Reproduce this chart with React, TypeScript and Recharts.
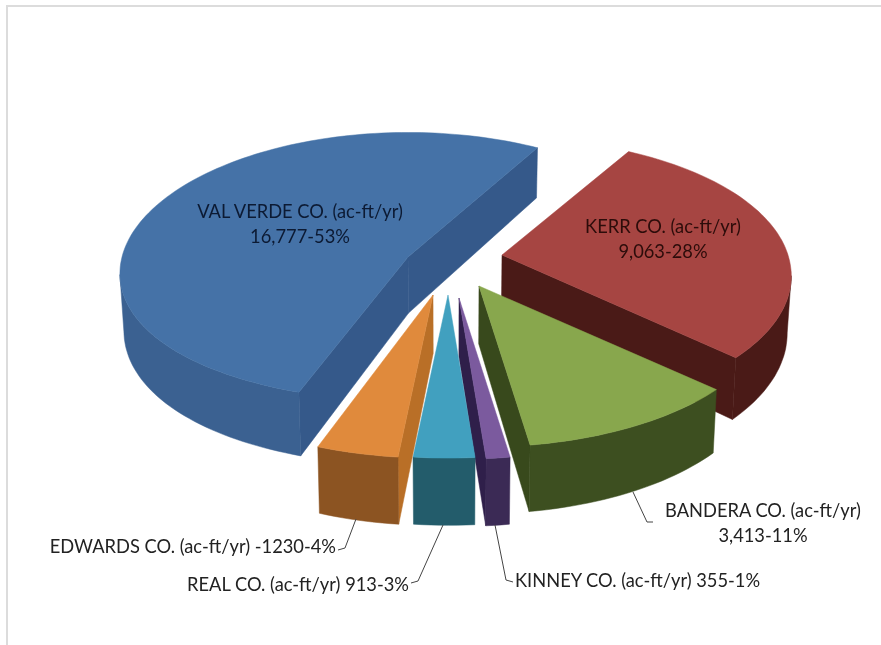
import React from "react";
import { PieChart, Pie } from "recharts";

const names = ["KERR CO.", "BANDERA CO.", "KINNEY CO.", "REAL CO.", "EDWARDS CO.", "VAL VERDE CO."];
const values = [9063, 3413, 355, 913, 1230, 16777];
const labelLines = [
  ["KERR CO. (ac-ft/yr)", "9,063-28%"],
  ["BANDERA CO. (ac-ft/yr)", "3,413-11%"],
  ["KINNEY CO. (ac-ft/yr) 355-1%"],
  ["REAL CO. (ac-ft/yr) 913-3%"],
  ["EDWARDS CO. (ac-ft/yr) -1230-4%"],
  ["VAL VERDE CO. (ac-ft/yr)", "16,777-53%"],
];
const topColors = ["#a64542", "#88a74d", "#7b5a9e", "#41a0bf", "#e08a3c", "#4572a7"];
const outerWallColors = ["#4a1a17", "#3d4f20", "#3b2a55", "#235c6b", "#8c5422", "#3b6191"];
const sideWallColors = ["#4a1a17", "#38491c", "#2f1f4a", "#235c6b", "#b96f27", "#35598a"];
const explodeVectors = [[51, -11], [28, 20], [8, 32], [-3, 29], [-18, 29], [-43, -9]];
const perspectiveX = [0.15, 0.17, 0.17, 0.17, 0.17, 0.12];
const perspectiveBack = [0.17, 0.17, 0.17, 0.17, 0.17, 0.1];
const perspectiveFront = [0.14, 0.15, 0.15, 0.16, 0.16, 0.05];
const labelLayout = [
  { x: 663, y: 233, anchor: "middle", color: "#2c0c0a" },
  { x: 763, y: 517, anchor: "middle", color: "#222" },
  { x: 515, y: 587, anchor: "start", color: "#222" },
  { x: 409, y: 591, anchor: "end", color: "#222" },
  { x: 336, y: 553, anchor: "end", color: "#222" },
  { x: 300, y: 218, anchor: "middle", color: "#0c1a33" },
];
const leaders = [
  null,
  [[633, 492], [647, 522], [653, 522]],
  [[495, 525], [506, 580], [513, 582]],
  [[443, 525], [418, 581], [411, 583]],
  [[356, 519], [345, 548], [338, 550]],
  null,
];

const CX = 451;
const CY = 266;
const RX = 286;
const RY_RATIO = 137 / 286;

const data = names.map((name, i) => ({ name, value: values[i] }));

type P = [number, number];
const pathOf = (pts: P[]) =>
  "M" + pts.map((p) => `${p[0].toFixed(1)},${p[1].toFixed(1)}`).join("L") + "Z";
const drop = (p: P): P => [p[0] + (CX - p[0]) * 0.012, p[1] + 42 + 0.055 * p[1]];

function Slice3D(props: any) {
  const { cx, cy, outerRadius, startAngle, endAngle, index } = props;
  const i = index ?? names.indexOf(props.name);
  const [ex, ey] = explodeVectors[i];
  const ax = cx + ex;
  const ay = cy + ey;
  const ry = outerRadius * RY_RATIO;
  const at = (deg: number): P => {
    const a = (deg * Math.PI) / 180;
    const X = Math.cos(a);
    const Y = -Math.sin(a);
    const sx = 1 / (1 - perspectiveX[i] * Y);
    const sy = 1 / (1 - (Y < 0 ? perspectiveBack[i] : perspectiveFront[i]) * Y);
    return [ax + outerRadius * X * sx, ay + ry * Y * sy];
  };
  const apex: P = [ax, ay];
  const n = Math.max(2, Math.ceil(Math.abs(endAngle - startAngle) / 1.5));
  const arc: P[] = [];
  for (let k = 0; k <= n; k++) arc.push(at(startAngle + ((endAngle - startAngle) * k) / n));
  const ring: P[] = [apex, ...arc];
  const walls: React.ReactNode[] = [];
  // a wall is visible when its edge runs leftwards on the clockwise outline
  const quad = (a: P, b: P, key: string) => (
    <path key={key} d={pathOf([a, b, drop(b), drop(a)])} fill={sideWallColors[i]} stroke={sideWallColors[i]} strokeWidth={0.5} />
  );
  if (arc[0][0] < apex[0]) walls.push(quad(apex, arc[0], "s"));
  if (apex[0] < arc[n][0]) walls.push(quad(arc[n], apex, "e"));
  let run: P[] = [];
  const flush = (key: string) => {
    if (run.length > 1) {
      const bottom = run.map(drop).reverse();
      walls.push(<path key={key} d={pathOf([...run, ...bottom])} fill={outerWallColors[i]} stroke={outerWallColors[i]} strokeWidth={0.5} />);
    }
    run = [];
  };
  for (let k = 0; k < n; k++) {
    if (arc[k + 1][0] < arc[k][0]) {
      if (run.length === 0) run.push(arc[k]);
      run.push(arc[k + 1]);
    } else flush("r" + k);
  }
  flush("rEnd");
  return (
    <g>
      {walls}
      <path d={pathOf(ring)} fill={topColors[i]} stroke={topColors[i]} strokeWidth={0.5} />
    </g>
  );
}

function SliceLabel(props: any) {
  const { index } = props;
  const l = labelLayout[index];
  const lead = leaders[index];
  return (
    <g>
      {lead && <polyline points={lead.map((p) => p.join(",")).join(" ")} fill="none" stroke="#444" strokeWidth={1} />}
      <text x={l.x} y={l.y} textAnchor={l.anchor as any} fill={l.color} fontFamily="Lato, sans-serif" fontSize={18.3}>
        {labelLines[index].map((t, k) => (
          <tspan key={k} x={l.x} dy={k === 0 ? 0 : 25}>
            {t}
          </tspan>
        ))}
      </text>
    </g>
  );
}

export default function App() {
  return (
    <div style={{ position: "absolute", left: 0, top: 0, width: 881, height: 645, background: "#fff" }}>
      <div style={{ position: "absolute", left: 6, top: 5, right: 0, bottom: 0, borderTop: "2px solid #dcdcdc", borderLeft: "2px solid #dcdcdc" }} />
      <div style={{ position: "absolute", left: 0, top: 0, filter: "blur(0.4px)" }}>
        <PieChart width={881} height={645} margin={{ top: 0, right: 0, bottom: 0, left: 0 }}>
          <Pie
            data={data}
            dataKey="value"
            nameKey="name"
            cx={CX}
            cy={CY}
            innerRadius={0}
            outerRadius={RX}
            startAngle={60}
            endAngle={-300}
            paddingAngle={0}
            isAnimationActive={false}
            shape={Slice3D}
            label={SliceLabel}
            labelLine={false}
            rootTabIndex={-1}
          />
        </PieChart>
      </div>
    </div>
  );
}
